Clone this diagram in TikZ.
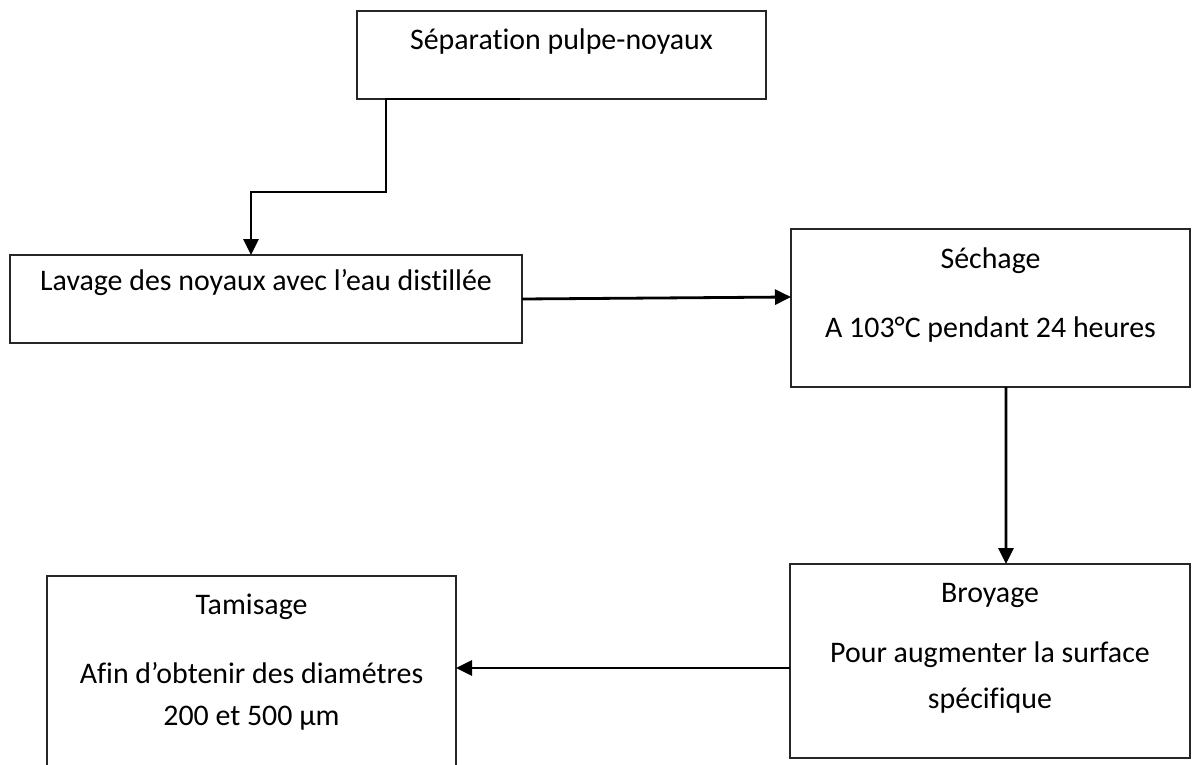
\documentclass[tikz,border=0pt]{standalone}
\usepackage{fontspec}
\setmainfont{Carlito}[Ligatures=NoCommon]
\usetikzlibrary{arrows.meta,calc}
\begin{document}
\begin{tikzpicture}[x=1bp,y=-1bp,
  box/.style={draw=black!85,line width=1.2bp,inner sep=0pt,outer sep=0pt,fill=none},
  lbl/.style={anchor=base,inner sep=0pt,font=\fontsize{30}{36}\selectfont},
  conn/.style={draw=black,line width=2.8bp,-{Triangle[length=16bp,width=15bp]}}]
\useasboundingbox (0,0) rectangle (1192,765);
\clip (0,0) rectangle (1192,765);
\fill[white] (0,0) rectangle (1192,765);
% boxes
\node[box,minimum width=409bp,minimum height=88bp] (b1) at (561.5,55) {};
\node[box,minimum width=512bp,minimum height=88bp] (b2) at (266,299) {};
\node[box,minimum width=399bp,minimum height=158bp] (b3) at (990.5,308) {};
\node[box,minimum width=400bp,minimum height=194bp] (b4) at (990,661) {};
\node[box,minimum width=409bp,minimum height=214bp] (b5) at (251.5,683) {};
% texts
\node[lbl] (t1) at (561.5,50) {Séparation pulpe-noyaux};
\node[lbl] (t2) at (266,290) {Lavage des noyaux avec l’eau distillée};
\node[lbl] (t3a) at (990.5,268) {Séchage};
\node[lbl] (t3b) at (990.5,337) {A 103°C pendant 24 heures};
\node[lbl] (t4a) at (990,602) {Broyage};
\node[lbl] (t4b) at (990,662) {Pour augmenter la surface};
\node[lbl] (t4c) at (990,708) {spécifique};
\node[lbl] (t5a) at (251.5,614) {Tamisage};
\node[lbl] (t5b) at (251.5,683) {Afin d’obtenir des diamétres};
\node[lbl] (t5c) at (251.5,725) {200 et 500 µm};
% connectors
\coordinate (c1) at ($(b1.south west)+(163,0)$);
\coordinate (c2) at ($(b1.south west)+(29,0)$);
\coordinate (c3) at (251,192);
\draw[conn] (c1) -- (c2) |- (c3) -- (c3 |- b2.north);
\draw[conn] (b2.east) -- ($(b3.north west)+(0,68)$);
\draw[conn] ([xshift=15.5bp]b3.south) -- ([xshift=16bp]b4.north);
\draw[conn] ([yshift=-7bp]b4.west) -- ([yshift=-7bp]b4.west -| b5.east);
\end{tikzpicture}
\end{document}
